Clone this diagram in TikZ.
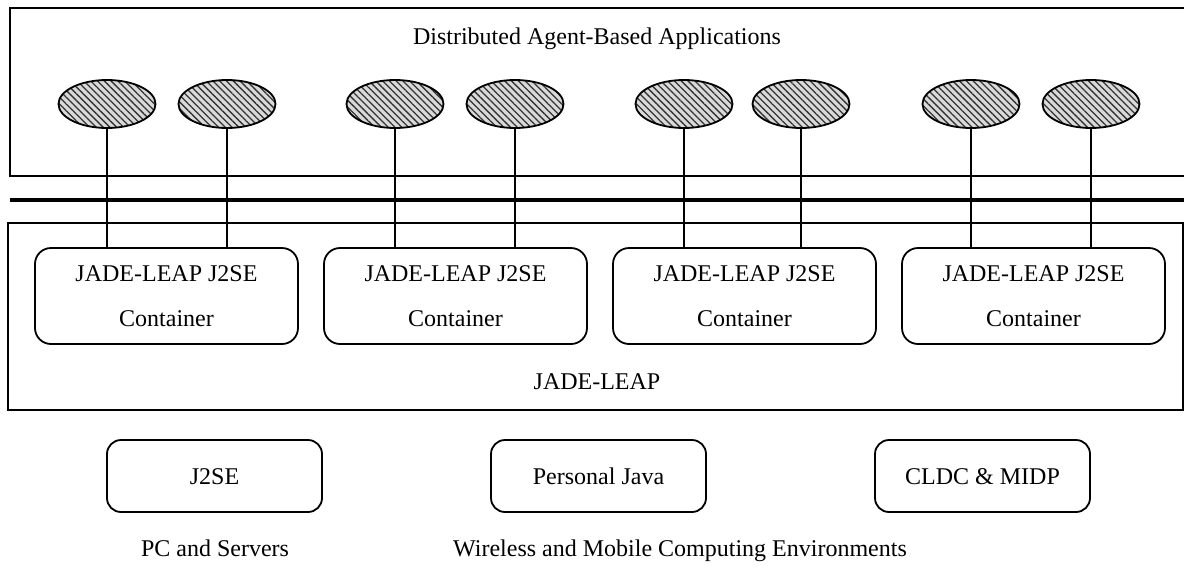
\documentclass[tikz,border=0pt]{standalone}
\usepackage{fontspec}
\setmainfont{Liberation Serif}
\usetikzlibrary{positioning,shapes.geometric,patterns.meta}

\begin{document}
\begin{tikzpicture}[x=0.5pt,y=-0.5pt,node distance=144.5pt,
        font=\fontsize{12}{22.5}\selectfont,
        every node/.style={text height=8pt,text depth=0pt},
        layer box/.style={draw,line width=0.9pt},
        agent node/.style={ellipse,draw,line width=0.9pt,inner sep=0pt,
            minimum width=48.5pt,minimum height=24pt,
            preaction={fill=gray!30},
            pattern={Lines[angle=-45,distance=2.4pt,line width=0.65pt]},pattern color=black!80},
        container node/.style={rectangle,rounded corners=8pt,draw,line width=0.9pt,
            minimum width=131.5pt,minimum height=48pt,align=center,text height=,text depth=},
        runtime node/.style={rectangle,rounded corners=7pt,draw,line width=0.9pt,
            minimum width=107.5pt,minimum height=36pt},
        link/.style={line width=0.9pt}]
        \useasboundingbox (0,0) rectangle (1184,574);
        % applications layer and bus
        \draw[layer box] (1200,8) -- (10,8) -- (10,176) -- (1200,176);
        \node (apps) at (597,36) {Distributed Agent-Based Applications};
        \draw[line width=2pt] (10,200) -- (1200,200);
        % JADE-LEAP layer
        \node[layer box,minimum width=587.5pt,minimum height=93.5pt,inner sep=0pt] (leap) at (595.5,316.5) {};
        \node (leaplabel) at (597,381) {JADE-LEAP};
        % containers
        \node[container node] (c1) at (166.5,296) {JADE-LEAP J2SE\\Container};
        \node[container node] (c2) [right of=c1] {JADE-LEAP J2SE\\Container};
        \node[container node] (c3) [right of=c2] {JADE-LEAP J2SE\\Container};
        \node[container node] (c4) [right of=c3] {JADE-LEAP J2SE\\Container};
        % agents
        \node[agent node] (a1) at (107,104) {};
        \node[agent node] (a2) at (227,104) {};
        \node[agent node] (a3) at (395,104) {};
        \node[agent node] (a4) at (515,104) {};
        \node[agent node] (a5) at (684,104) {};
        \node[agent node] (a6) at (801,104) {};
        \node[agent node] (a7) at (971,104) {};
        \node[agent node] (a8) at (1091,104) {};
        \draw[link] (a1) -- (a1 |- c1.north);
        \draw[link] (a2) -- (a2 |- c1.north);
        \draw[link] (a3) -- (a3 |- c2.north);
        \draw[link] (a4) -- (a4 |- c2.north);
        \draw[link] (a5) -- (a5 |- c3.north);
        \draw[link] (a6) -- (a6 |- c3.north);
        \draw[link] (a7) -- (a7 |- c4.north);
        \draw[link] (a8) -- (a8 |- c4.north);
        % runtimes
        \node[runtime node] (j2se) at (214.5,476) {J2SE};
        \node[runtime node] (pjava) at (598.5,476) {Personal Java};
        \node[runtime node] (cldc) at (982.5,476) {CLDC \& MIDP};
        \node (pc) at (215,548) {PC and Servers};
        \node (mobile) at (680,548) {Wireless and Mobile Computing Environments};
\end{tikzpicture}
\end{document}
